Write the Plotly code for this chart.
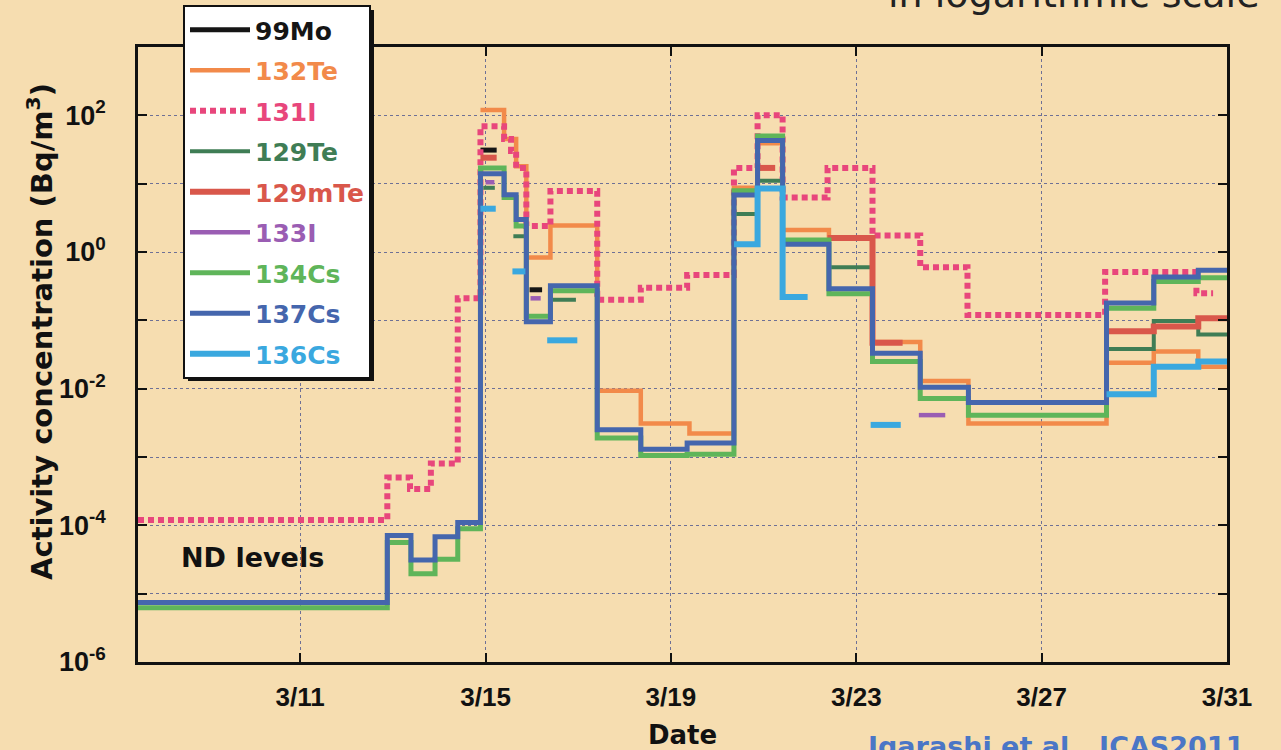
import plotly.graph_objects as go

# ---------------- data (day of March, Bq/m^3) ----------------
mo99_days = [14.89, 15.24, 15.95, 16.22]
mo99_vals = [31, None, 0.28]

te132_days = [14.89, 15.40, 15.66, 15.88, 16.40, 17.41, 18.35, 19.40, 20.36, 20.87, 21.41, 22.41, 23.35, 24.38, 25.42, 28.40, 29.42, 30.38, 31.0]
te132_vals = [120, 45, 18, 0.83, 2.45, 0.0093, 0.0031, 0.0022, 8.7, 39, 2.1, 1.6, 0.048, 0.013, 0.0031, 0.024, 0.035, 0.021]

i131_days = [7.5, 12.88, 13.37, 13.82, 14.40, 14.89, 15.40, 15.55, 15.66, 15.88, 16.40, 17.41, 18.35, 19.35, 20.36, 20.87, 21.41, 22.38, 23.35, 24.38, 25.40, 28.37, 30.34, 30.70]
i131_vals = [1.2e-4, 5.0e-4, 3.4e-4, 8.0e-4, 0.21, 69, 45, 30, 17, 2.4, 7.8, 0.20, 0.30, 0.46, 17, 100, 6.3, 17, 1.74, 0.60, 0.12, 0.51, 0.25]

te129_days = [14.95, 15.20, 15.60, 15.86, 16.40, 16.95, 20.36, 20.87, 21.41, 22.41, 23.35, 28.40, 29.42, 30.38, 31.0]
te129_vals = [8.7, None, 1.7, None, 0.20, None, 3.6, 11, None, 0.60, None, 0.038, 0.098, 0.062]

te129m_days = [14.89, 15.24, 20.90, 21.25, 22.38, 23.35, 24.0, 28.40, 29.42, 30.38, 31.0]
te129m_vals = [24, None, 17, None, 1.6, 0.047, None, 0.069, 0.081, 0.107]

i133_days = [15.0, 15.19, 15.97, 16.19, 24.35, 24.92]
i133_vals = [10.5, None, 0.21, None, 0.0041]

cs134_days = [7.5, 12.88, 13.39, 13.91, 14.40, 14.89, 15.40, 15.66, 15.88, 16.40, 17.41, 18.35, 19.35, 20.36, 20.87, 21.41, 22.41, 23.35, 24.38, 25.42, 28.40, 29.42, 30.38, 31.0]
cs134_vals = [6.2e-6, 5.6e-5, 1.95e-5, 3.2e-5, 8.9e-5, 17, 6.3, 2.4, 0.115, 0.27, 0.0019, 0.00105, 0.0011, 7.9, 50, 1.5, 0.245, 0.025, 0.0072, 0.0041, 0.15, 0.37, 0.42]

cs137_days = [7.5, 12.88, 13.39, 13.91, 14.40, 14.89, 15.40, 15.66, 15.88, 16.40, 17.41, 18.35, 19.35, 20.36, 20.87, 21.41, 22.41, 23.35, 24.38, 25.42, 28.40, 29.42, 30.38, 31.0]
cs137_vals = [7.4e-6, 7.1e-5, 3.1e-5, 6.8e-5, 1.1e-4, 14, 6.9, 3.0, 0.095, 0.32, 0.0025, 0.0013, 0.0016, 6.8, 43, 1.3, 0.29, 0.033, 0.0105, 0.0063, 0.18, 0.43, 0.54]

cs136_days = [14.89, 15.22, 15.58, 15.86, 16.33, 16.98, 20.36, 20.87, 21.41, 21.95, 23.31, 23.96, 28.40, 29.42, 30.38, 31.0]
cs136_vals = [4.3, None, 0.52, None, 0.051, None, 1.3, 8.5, 0.22, None, 0.00295, None, 0.0083, 0.021, 0.025]

x_tickvals = [11, 15, 19, 23, 27, 31]
x_ticktext = ["3/11", "3/15", "3/19", "3/23", "3/27", "3/31"]
y_tickvals = [1e-6, 1e-4, 1e-2, 1e0, 1e2]
y_ticktext = ["10<sup>-6</sup>", "10<sup>-4</sup>", "10<sup>-2</sup>", "10<sup>0</sup>", "10<sup>2</sup>"]
y_minorvals = [1e-5, 1e-3, 1e-1, 1e1]

# ---------------- helpers ----------------
def steps(days, vals):
    xs, ys = [], []
    for i, v in enumerate(vals):
        if v is None:
            xs.append(None); ys.append(None)
        else:
            xs += [days[i], days[i + 1]]
            ys += [v, v]
    return xs, ys

series = [
    ("99Mo", mo99_days, mo99_vals, "#151515", 5, "solid"),
    ("132Te", te132_days, te132_vals, "#f28a4a", 4.5, "solid"),
    ("131I", i131_days, i131_vals, "#e8467c", 6, "6px,4px"),
    ("129Te", te129_days, te129_vals, "#3f7d55", 4, "solid"),
    ("129mTe", te129m_days, te129m_vals, "#d9574b", 6, "solid"),
    ("133I", i133_days, i133_vals, "#9a5db3", 4.5, "solid"),
    ("134Cs", cs134_days, cs134_vals, "#5fb55a", 5, "solid"),
    ("137Cs", cs137_days, cs137_vals, "#4566ad", 5, "solid"),
    ("136Cs", cs136_days, cs136_vals, "#3aa8df", 6, "solid"),
]

FONT = "Liberation Sans, Arial, sans-serif"
WIDE = "DejaVu Sans, Liberation Sans, sans-serif"
BG = "#f6ddb0"
L, R, T, B = 138, 54, 47, 88
PW, PH = 1281 - L - R, 750 - T - B

def px(xp):
    return (xp - L) / PW

def py(yp):
    return (750 - B - yp) / PH

fig = go.Figure()
for i, (name, d, v, col, w, dash) in enumerate(series):
    xs, ys = steps(d, v)
    fig.add_trace(go.Scatter(
        x=xs, y=ys, mode="lines", connectgaps=False,
        name=f"<span style='color:{col}'>{name}</span>",
        legendgroup=f"g{i}",
        line=dict(color=col, width=w, dash=dash),
    ))

grid = dict(showgrid=True, gridcolor="#6e7096", gridwidth=1.2, griddash="3px,3px")

fig.update_layout(
    width=1281, height=750,
    margin=dict(l=L, r=R, t=T, b=B, autoexpand=False),
    paper_bgcolor=BG, plot_bgcolor=BG,
    font=dict(family=FONT, color="#111", size=22, weight="bold"),
    showlegend=True,
    legend=dict(
        x=px(183), y=py(5), xanchor="left", yanchor="top",
        bgcolor="white", bordercolor="#111", borderwidth=2,
        font=dict(family=WIDE, size=25, weight="bold"),
        itemwidth=60, tracegroupgap=5, maxheight=600,
    ),
    xaxis=dict(
        range=[7.5, 31], tickvals=x_tickvals, ticktext=x_ticktext,
        ticks="inside", ticklen=9, tickwidth=2, tickcolor="#111",
        showline=True, linewidth=2.5, linecolor="#111", mirror="ticks",
        zeroline=False, ticklabelstandoff=10, automargin=False,
        tickfont=dict(size=26, weight="bold"),
        title=dict(text="Date", font=dict(family=WIDE, size=26, weight="bold"), standoff=28),
        **grid,
    ),
    yaxis=dict(
        type="log", range=[-6, 3], tickvals=y_tickvals, ticktext=y_ticktext,
        ticks="inside", ticklen=9, tickwidth=2, tickcolor="#111",
        showline=True, linewidth=2.5, linecolor="#111", mirror="ticks",
        zeroline=False, ticklabelstandoff=24, automargin=False,
        tickfont=dict(size=27, weight="bold"),
        minor=dict(tickvals=y_minorvals, ticks="inside", ticklen=9, tickwidth=2,
                   tickcolor="#111", **grid),
        **grid,
    ),
    shapes=[
        dict(type="rect", xref="paper", yref="paper",
             x0=px(188), x1=px(374), y0=py(381), y1=py(10),
             fillcolor="#111", line=dict(width=0), layer="above"),
    ],
    annotations=[
        dict(text="Activity concentration (Bq/m<sup>3</sup>)", textangle=-90,
             xref="paper", yref="paper", x=px(40), y=py(332), showarrow=False,
             xanchor="center", yanchor="middle",
             font=dict(family=WIDE, size=29, weight="bold")),
        dict(text="ND levels", xref="paper", yref="paper", x=px(179), y=py(557),
             xanchor="left", yanchor="middle", showarrow=False,
             font=dict(family=WIDE, size=27, weight="bold")),
        dict(text="in logarithmic scale", xref="paper", yref="paper", x=px(1262), y=py(18),
             xanchor="right", yanchor="bottom", showarrow=False,
             font=dict(size=38, weight="normal", family="DejaVu Sans, sans-serif", color="#222")),
        dict(text="Igarashi et al., ICAS2011", xref="paper", yref="paper", x=px(866), y=py(729),
             xanchor="left", yanchor="top", showarrow=False,
             font=dict(family=WIDE, size=27, weight="bold", color="#4a76c6")),
    ],
)

fig.write_html("out.html", config={"displayModeBar": False},
               post_script="document.body.style.margin='0';")
